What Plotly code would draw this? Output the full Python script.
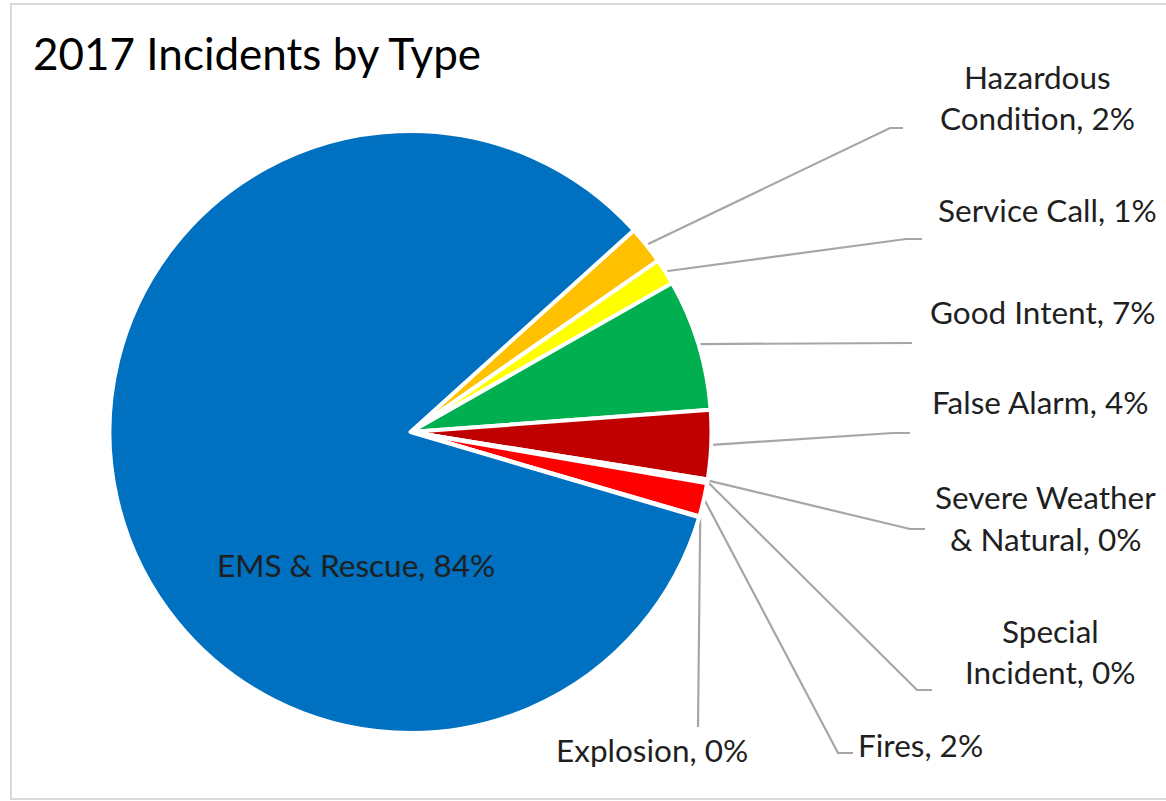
import math
import plotly.graph_objects as go

# ---------------- data ----------------
categories = ["Hazardous Condition", "Service Call", "Good Intent", "False Alarm",
              "Severe Weather & Natural", "Special Incident", "Fires", "Explosion",
              "EMS & Rescue"]
values = [2.06, 1.40, 7.06, 3.70, 0.10, 0.10, 1.80, 0.05, 83.73]
colors = ["#FFC000", "#FFFF00", "#00B050", "#C00000", "#7030A0", "#92D050",
          "#FF0000", "#002060", "#0070C0"]
# label text lines (percent appended to last line)
label_lines = [["Hazardous", "Condition,"], ["Service Call,"], ["Good Intent,"],
               ["False Alarm,"], ["Severe Weather", "& Natural,"],
               ["Special", "Incident,"], ["Fires,"], ["Explosion,"], ["EMS & Rescue,"]]
title_text = "2017 Incidents by Type"

# ---------------- layout geometry (pixels) ----------------
W, H = 1166, 801
CX, CY, R = 410.5, 432.0, 301.0
START_ANGLE = 47.9  # degrees clockwise from 12 o'clock
label_x = [1037, 1047, 1042, 1040, 1045, 1050, 920, 652, 356]
label_y = [[77, 118], [210], [312], [402], [497, 539], [631, 672], [745], [750], [565]]
elbow = [(890, 128), (906, 239), (897, 343), (893, 433), (910, 529), (917, 690),
         (838, 753), (698, 727), None]
line_end = [(903, 128), (922, 239), (912, 343), (910, 433), (925, 529), (932, 690),
            (853, 753), (698, 727), None]

total = sum(values)
pcts = [round(v / total * 100) for v in values]

fig = go.Figure()

fig.add_trace(go.Pie(
    labels=categories, values=values, sort=False, direction="clockwise",
    rotation=START_ANGLE,
    marker=dict(colors=colors, line=dict(color="white", width=4)),
    textinfo="none", hoverinfo="label+percent", showlegend=False,
    domain=dict(x=[(CX - R) / W, (CX + R) / W], y=[1 - (CY + R) / H, 1 - (CY - R) / H]),
))

# leader lines, starting from each slice's mid-angle on the rim
cum = 0.0
for i, v in enumerate(values):
    mid = math.radians(START_ANGLE + 360.0 * (cum + v / 2) / total)
    cum += v
    if elbow[i] is None:
        continue
    rs = R + 1
    sx = CX + rs * math.sin(mid)
    sy = CY - rs * math.cos(mid)
    fig.add_trace(go.Scatter(
        x=[sx, elbow[i][0], line_end[i][0]], y=[sy, elbow[i][1], line_end[i][1]],
        mode="lines", line=dict(color="#A6A6A6", width=2.2), hoverinfo="skip",
        showlegend=False))

annotations = []
for i, lines in enumerate(label_lines):
    lines = list(lines)
    lines[-1] = lines[-1] + f" {pcts[i]}%"
    for j, t in enumerate(lines):
        annotations.append(dict(
            x=label_x[i], y=label_y[i][j], xref="x", yref="y", text=t,
            showarrow=False, xanchor="center", yanchor="middle",
            font=dict(family="Lato", size=31.5, color="#1F1F1F")))

annotations.append(dict(
    x=31, y=53, xref="x", yref="y", text=title_text, showarrow=False,
    xanchor="left", yanchor="middle",
    font=dict(family="Lato", size=44, color="#000000")))

# open frame: left, top and bottom edges only (right edge lies outside the picture)
frame_path = "M {r},{t} L {l},{t} L {l},{b} L {r},{b}".format(l=11, t=4, r=W + 10, b=799)

fig.update_layout(
    width=W, height=H, margin=dict(l=0, r=0, t=0, b=0),
    paper_bgcolor="white", plot_bgcolor="white",
    xaxis=dict(range=[0, W], visible=False, fixedrange=True, domain=[0, 1]),
    yaxis=dict(range=[H, 0], visible=False, fixedrange=True, domain=[0, 1]),
    annotations=annotations,
    shapes=[dict(type="path", xref="x", yref="y", path=frame_path,
                 line=dict(color="#D9D9D9", width=2), layer="below")],
)

fig.write_html("out.html", config={"displayModeBar": False},
               post_script="document.body.style.margin='0';document.body.style.overflow='hidden';")
